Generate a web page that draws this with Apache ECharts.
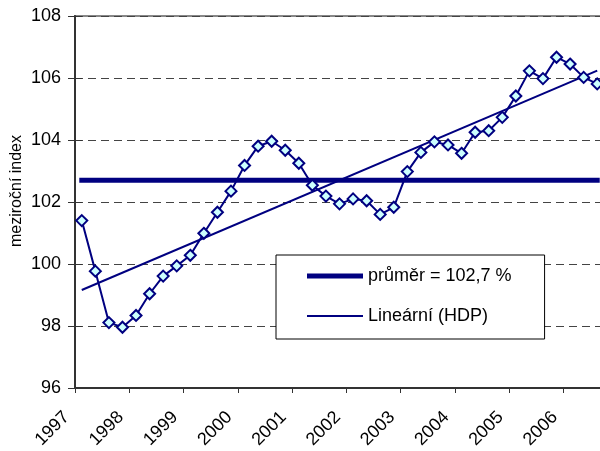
<!DOCTYPE html>
<html>
<head>
<meta charset="utf-8">
<script src="https://cdn.jsdelivr.net/npm/echarts@6/dist/echarts.min.js"></script>
<style>
  * { margin: 0; padding: 0; }
  body { background: #fff; }
  #chart { width: 600px; height: 451px; }
</style>
</head>
<body>
<div id="chart"></div>
<script>
// quarters 1997Q1 .. 2006Q3
var quarters = [
  '1997Q1','1997Q2','1997Q3','1997Q4','1998Q1','1998Q2','1998Q3','1998Q4',
  '1999Q1','1999Q2','1999Q3','1999Q4','2000Q1','2000Q2','2000Q3','2000Q4',
  '2001Q1','2001Q2','2001Q3','2001Q4','2002Q1','2002Q2','2002Q3','2002Q4',
  '2003Q1','2003Q2','2003Q3','2003Q4','2004Q1','2004Q2','2004Q3','2004Q4',
  '2005Q1','2005Q2','2005Q3','2005Q4','2006Q1','2006Q2','2006Q3'
];
var hdp = [
  101.40, 99.77, 98.11, 97.96, 98.34, 99.04, 99.61, 99.94,
  100.28, 100.99, 101.67, 102.35, 103.18, 103.80, 103.96, 103.67,
  103.25, 102.54, 102.19, 101.94, 102.10, 102.04, 101.60, 101.83,
  102.98, 103.60, 103.94, 103.84, 103.57, 104.25, 104.30, 104.73,
  105.42, 106.23, 105.98, 106.67, 106.45, 106.02, 105.81
];
var prumer = 102.7;
var trendStart = 99.16;
var trendEnd = 106.24;
var yearLabels = [1997, 1998, 1999, 2000, 2001, 2002, 2003, 2004, 2005, 2006];

var navy = '#000080';
var font = 'Liberation Sans, Arial, sans-serif';

// quarter label -> position on the year axis (middle of the quarter)
function qx(q) {
  return parseInt(q.slice(0, 4)) + (parseInt(q.slice(5)) - 0.5) / 4;
}
var first = qx(quarters[0]);
var last = qx(quarters[quarters.length - 1]);

// legend icons: thick and thin bar inside the same 56x6 box
var thickIcon = 'path://M0,0h56v0.01h-56z M0,0.5h56v5h-56z M0,5.99h56v0.01h-56z';
var thinIcon = 'path://M0,0h56v0.01h-56z M0,2h56v2h-56z M0,5.99h56v0.01h-56z';

var chart = echarts.init(document.getElementById('chart'));
chart.setOption({
  backgroundColor: '#fff',
  animation: false,
  textStyle: { fontFamily: font },
  grid: {
    left: 75, top: 16, bottom: 63, right: -4,
    outerBoundsMode: 'none',
    containLabel: false,
    show: true, borderColor: '#888', borderWidth: 2, backgroundColor: '#fff'
  },
  legend: {
    orient: 'vertical',
    left: 276, top: 255,
    padding: [12, 33, 14, 31],
    itemGap: 22,
    itemWidth: 56, itemHeight: 6,
    backgroundColor: '#fff',
    borderColor: '#000', borderWidth: 1,
    textStyle: { fontSize: 18, color: '#000', fontFamily: font },
    data: [
      { name: 'průměr = 102,7 %', icon: thickIcon },
      { name: 'Lineární (HDP)', icon: thinIcon }
    ]
  },
  xAxis: {
    type: 'value',
    min: yearLabels[0],
    max: last + 0.125,
    interval: 1,
    axisLine: { lineStyle: { color: '#333', width: 2 } },
    axisTick: { length: 5, lineStyle: { color: '#333', width: 1 } },
    splitLine: { show: false },
    axisLabel: {
      rotate: 45,
      margin: 18,
      padding: [0, 12, 0, 0],
      fontSize: 18,
      color: '#000',
      showMaxLabel: false,
      formatter: function (v) {
        return yearLabels.indexOf(v) >= 0 ? String(v) : '';
      }
    }
  },
  yAxis: [{
    type: 'value',
    min: 96, max: 108, interval: 2,
    name: 'meziroční index',
    nameLocation: 'middle',
    nameGap: 50,
    nameMoveOverlap: false,
    nameTextStyle: { fontSize: 16, color: '#000', fontFamily: font, padding: [0, 0, 0, 22] },
    axisLine: { show: true, lineStyle: { color: '#333', width: 2 } },
    axisTick: { length: 7, lineStyle: { color: '#333', width: 1 } },
    axisLabel: { margin: 14, fontSize: 18, color: '#000' },
    splitLine: { lineStyle: { color: '#444', type: [8, 5], width: 1 } }
  }, {
    type: 'value',
    min: 96, max: 108, interval: 2,
    position: 'left',
    axisLine: { show: false },
    axisTick: { show: true, inside: true, length: 7, lineStyle: { color: '#333', width: 1 } },
    axisLabel: { show: false },
    splitLine: { show: false }
  }],
  series: [
    {
      name: 'průměr = 102,7 %',
      type: 'line',
      symbol: 'none',
      lineStyle: { color: navy, width: 5, cap: 'square' },
      itemStyle: { color: navy },
      data: [[first, prumer], [last, prumer]]
    },
    {
      name: 'HDP',
      type: 'line',
      symbol: 'diamond',
      symbolSize: 11,
      lineStyle: { color: navy, width: 2 },
      itemStyle: { color: '#ccffff', borderColor: navy, borderWidth: 2 },
      data: quarters.map(function (q, i) { return [qx(q), hdp[i]]; })
    },
    {
      name: 'Lineární (HDP)',
      type: 'line',
      symbol: 'none',
      lineStyle: { color: navy, width: 2 },
      itemStyle: { color: navy },
      data: [[first, trendStart], [last, trendEnd]]
    }
  ]
});
</script>
</body>
</html>
